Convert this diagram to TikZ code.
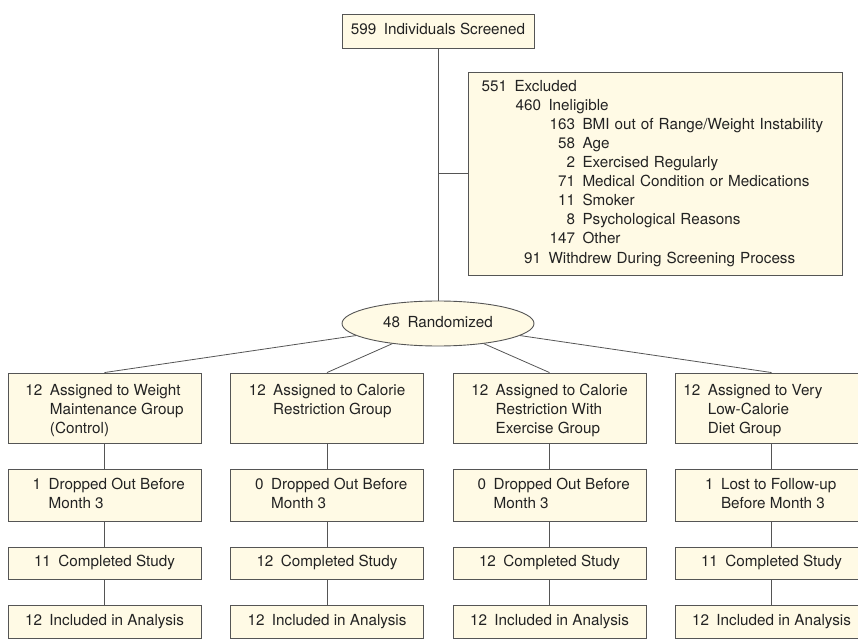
\documentclass[tikz,border=0pt]{standalone}
\usepackage{fontspec}
\setsansfont{TeX Gyre Heros}
\definecolor{boxfill}{RGB}{255,250,229}
\definecolor{boxline}{RGB}{85,85,85}
\definecolor{inktext}{RGB}{35,35,35}
\tikzset{every picture/.style={/utils/exec={\sffamily}}}
\usetikzlibrary{shapes.geometric}

% count in front, label (maybe several rows) hanging behind it
\newcommand{\numlabel}[2]{\begin{tabular}[t]{@{}r@{\hspace{7.5bp}}l@{}}#1 & #2\end{tabular}}
% one row of the exclusion list: indent, count, label
\newcommand{\exline}[3]{\hspace*{#1}\makebox[25.5bp][r]{#2}\hspace{7.5bp}#3}

\begin{document}
\begin{tikzpicture}[x=1bp,y=-1bp,
  font=\fontsize{15.3}{19.1}\selectfont,
  box/.style={draw=boxline,fill=boxfill,line width=0.9bp,text=inktext,inner sep=0pt,minimum width=193bp},
  grpbox/.style={box,minimum height=70bp,text height=22bp,text depth=48bp},
  link/.style={draw=boxline,line width=0.8bp}]

  \path[use as bounding box,clip] (0,0) rectangle (858,643);

  % screening
  \node [box,minimum width=192bp,minimum height=34bp] (screen) at (438,31) {\numlabel{599}{Individuals Screened}};

  \node [box,text width=347bp,inner xsep=13.5bp,align=left,minimum height=203bp] (excl) at (655,173.5) {%
    \exline{0bp}{551}{Excluded}\\
    \exline{34bp}{460}{Ineligible}\\
    \exline{68bp}{163}{BMI out of Range/Weight Instability}\\
    \exline{68bp}{58}{Age}\\
    \exline{68bp}{2}{Exercised Regularly}\\
    \exline{68bp}{71}{Medical Condition or Medications}\\
    \exline{68bp}{11}{Smoker}\\
    \exline{68bp}{8}{Psychological Reasons}\\
    \exline{68bp}{147}{Other}\\
    \exline{34bp}{91}{Withdrew During Screening Process}};

  \node [ellipse,draw=boxline,fill=boxfill,line width=0.9bp,text=inktext,inner sep=0pt,
    minimum width=192bp,minimum height=45bp] (rand) at (438,323.5) {\numlabel{48}{Randomized}};

  % groups
  \node [grpbox] (grp1) at (104.5,408) {\numlabel{12}{Assigned to Weight\\ & Maintenance Group\\ & (Control)}};
  \node [grpbox] (grp2) at (327,408) {\numlabel{12}{Assigned to Calorie\\ & Restriction Group}};
  \node [grpbox] (grp3) at (549.5,408) {\numlabel{12}{Assigned to Calorie\\ & Restriction With\\ & Exercise Group}};
  \node [grpbox] (grp4) at (771.5,408) {\numlabel{12}{Assigned to Very\\ & Low-Calorie\\ & Diet Group}\hspace*{37bp}};

  % follow-up
  \node [box,minimum height=52bp] (drop1) at (104.5,495) {\numlabel{\phantom{0}1}{Dropped Out Before\\ & Month 3}};
  \node [box,minimum height=52bp] (drop2) at (327,495) {\numlabel{\phantom{0}0}{Dropped Out Before\\ & Month 3}};
  \node [box,minimum height=52bp] (drop3) at (549.5,495) {\numlabel{\phantom{0}0}{Dropped Out Before\\ & Month 3}};
  \node [box,minimum height=52bp] (drop4) at (771.5,495) {\numlabel{\phantom{0}1}{Lost to Follow-up\\ & Before Month 3}\hspace*{10bp}};

  \node [box,minimum height=32bp] (done1) at (104.5,563) {\numlabel{11}{Completed Study}};
  \node [box,minimum height=32bp] (done2) at (327,563) {\numlabel{12}{Completed Study}};
  \node [box,minimum height=32bp] (done3) at (549.5,563) {\numlabel{12}{Completed Study}};
  \node [box,minimum height=32bp] (done4) at (771.5,563) {\numlabel{11}{Completed Study}};

  \node [box,minimum height=33bp] (incl1) at (104.5,621.5) {\numlabel{12}{Included in Analysis}};
  \node [box,minimum height=33bp] (incl2) at (327,621.5) {\numlabel{12}{Included in Analysis}};
  \node [box,minimum height=33bp] (incl3) at (549.5,621.5) {\numlabel{12}{Included in Analysis}};
  \node [box,minimum height=33bp] (incl4) at (771.5,621.5) {\numlabel{12}{Included in Analysis}};

  \draw [link] (screen) -- (rand);
  \draw [link] (excl.west) -- (excl.west -| screen.south);
  \foreach \i in {1,...,4}{
    \draw [link] (rand) -- (grp\i.north);
    \draw [link] (grp\i) -- (drop\i);
    \draw [link] (drop\i) -- (done\i);
    \draw [link] (done\i) -- (incl\i);
  }

\end{tikzpicture}
\end{document}
